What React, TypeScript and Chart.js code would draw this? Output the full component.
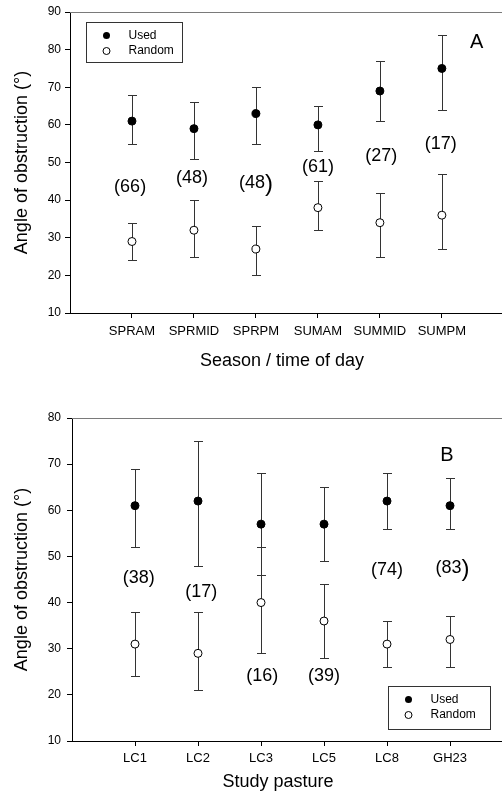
import React, { useEffect, useRef } from "react";
import { Chart, registerables } from "chart.js";

Chart.register(...registerables);
Chart.defaults.font.family = "'Liberation Sans', Arial, sans-serif";
Chart.defaults.color = "#000";

// ---------- Panel A: season / time of day ----------
const seasonCategories = ["SPRAM", "SPRMID", "SPRPM", "SUMAM", "SUMMID", "SUMPM"];
const seasonUsed = [61, 59, 63, 60, 69, 75];
const seasonUsedLow = [55, 51, 55, 53, 61, 64];
const seasonUsedHigh = [68, 66, 70, 65, 77, 84];
const seasonRandom = [29, 32, 27, 38, 34, 36];
const seasonRandomLow = [24, 25, 20, 32, 25, 27];
const seasonRandomHigh = [34, 40, 33, 45, 42, 47];
const seasonCounts = ["(66", "(48", "(48", "(61", "(27", "(17"];
const seasonCountY = [43.5, 45.8, 44.5, 48.8, 51.7, 54.9];
const seasonCountDX = [-0.03, -0.03, 0, 0, 0.02, -0.02];
const seasonBigParen = [false, false, true, false, false, false];

// ---------- Panel B: study pasture ----------
const pastureCategories = ["LC1", "LC2", "LC3", "LC5", "LC8", "GH23"];
const pastureUsed = [61, 62, 57, 57, 62, 61];
const pastureUsedLow = [52, 48, 46, 49, 56, 56];
const pastureUsedHigh = [69, 75, 68, 65, 68, 67];
const pastureRandom = [31, 29, 40, 36, 31, 32];
const pastureRandomLow = [24, 21, 29, 28, 26, 26];
const pastureRandomHigh = [38, 38, 52, 44, 36, 37];
const pastureCounts = ["(38", "(17", "(16", "(39", "(74", "(83"];
const pastureCountY = [45.3, 42.2, 24, 24, 47.1, 47.5];
const pastureCountDX = [0.06, 0.05, 0.02, 0, 0, 0.04];
const pastureBigParen = [false, false, false, false, false, true];

const yTitle = "Angle of obstruction (°)";
const legendLabels = ["Used", "Random"];

type PanelProps = {
  top: number;
  height: number;
  categories: string[];
  used: number[];
  usedLow: number[];
  usedHigh: number[];
  random: number[];
  randomLow: number[];
  randomHigh: number[];
  counts: string[];
  countY: number[];
  countDX: number[];
  bigParen: boolean[];
  yMin: number;
  yMax: number;
  xMax: number;
  xTitle: string;
  xTitleShift: number;
  xTitleY: number;
  letter: string;
  letterX: number;
  letterY: number;
  legendCorner: "topLeft" | "bottomRight";
  axisWidth: number;
  xAxisHeight: number;
  padTop: number;
  xTickPad: number;
  yTickPad: number;
};

const FONT = "'Liberation Sans', Arial, sans-serif";

function Panel(p: PanelProps) {
  const ref = useRef<HTMLCanvasElement>(null);

  useEffect(() => {
    const canvas = ref.current;
    if (!canvas) return;

    const errorBars = {
      id: "errorBars",
      beforeDatasetsDraw(chart: any) {
        const { ctx, scales } = chart;
        const xs = scales.x;
        const ys = scales.y;
        ctx.save();
        ctx.strokeStyle = "#333";
        ctx.lineWidth = 1;
        const sets = [
          [p.usedLow, p.usedHigh],
          [p.randomLow, p.randomHigh],
        ];
        sets.forEach(([lo, hi]) => {
          lo.forEach((l, i) => {
            const x = Math.round(xs.getPixelForValue(i + 1)) + 0.5;
            const y1 = Math.round(ys.getPixelForValue(l)) + 0.5;
            const y2 = Math.round(ys.getPixelForValue(hi[i])) + 0.5;
            ctx.beginPath();
            ctx.moveTo(x, y1);
            ctx.lineTo(x, y2);
            ctx.moveTo(x - 4.5, y1);
            ctx.lineTo(x + 4.5, y1);
            ctx.moveTo(x - 4.5, y2);
            ctx.lineTo(x + 4.5, y2);
            ctx.stroke();
          });
        });
        ctx.restore();
      },
    };

    const decorations = {
      id: "decorations",
      afterDatasetsDraw(chart: any) {
        const { ctx, scales, chartArea } = chart;
        const xs = scales.x;
        const ys = scales.y;
        ctx.save();
        // top frame line
        ctx.strokeStyle = "#7a7a7a";
        ctx.lineWidth = 1;
        ctx.beginPath();
        ctx.moveTo(chartArea.left, Math.round(chartArea.top) + 0.5);
        ctx.lineTo(chartArea.right, Math.round(chartArea.top) + 0.5);
        ctx.stroke();

        // x-axis title
        ctx.fillStyle = "#000";
        ctx.textBaseline = "middle";
        ctx.textAlign = "center";
        ctx.font = `18px ${FONT}`;
        ctx.fillText(p.xTitle, (chartArea.left + chartArea.right) / 2 + p.xTitleShift, chartArea.bottom + p.xTitleY);

        // sample-size labels
        ctx.textAlign = "left";
        p.counts.forEach((txt, i) => {
          const cx = xs.getPixelForValue(i + 1 + p.countDX[i]);
          const cy = ys.getPixelForValue(p.countY[i]);
          ctx.font = `18px ${FONT}`;
          const w1 = ctx.measureText(txt).width;
          const closeFont = p.bigParen[i] ? `24px ${FONT}` : `18px ${FONT}`;
          ctx.font = closeFont;
          const w2 = ctx.measureText(")").width;
          const start = cx - (w1 + w2) / 2;
          ctx.font = `18px ${FONT}`;
          ctx.fillText(txt, start, cy);
          ctx.font = closeFont;
          ctx.fillText(")", start + w1, cy + (p.bigParen[i] ? 1 : 0));
        });

        // panel letter
        ctx.font = `20px ${FONT}`;
        ctx.textAlign = "center";
        ctx.fillText(p.letter, xs.getPixelForValue(p.letterX), ys.getPixelForValue(p.letterY));

        // legend box
        let bx: number, by: number, bw: number, bh: number;
        if (p.legendCorner === "topLeft") {
          bw = 96;
          bh = 40;
          bx = chartArea.left + 16;
          by = chartArea.top + 10;
        } else {
          bw = 102;
          bh = 43;
          bx = chartArea.right - 12 - bw;
          by = chartArea.bottom - 12 - bh;
        }
        bx = Math.round(bx) + 0.5;
        by = Math.round(by) + 0.5;
        ctx.strokeStyle = "#333";
        ctx.lineWidth = 1;
        ctx.strokeRect(bx, by, bw, bh);
        const rows = [by + 13, by + 28.5];
        ctx.font = `12px ${FONT}`;
        ctx.textAlign = "left";
        rows.forEach((ry, k) => {
          ctx.beginPath();
          ctx.arc(bx + 20, ry, 3.5, 0, Math.PI * 2);
          if (k === 0) {
            ctx.fillStyle = "#000";
            ctx.fill();
          } else {
            ctx.fillStyle = "#fff";
            ctx.fill();
            ctx.strokeStyle = "#000";
            ctx.stroke();
          }
          ctx.fillStyle = "#000";
          ctx.fillText(legendLabels[k], bx + 42, ry);
        });
        ctx.restore();
      },
    };

    const chart = new Chart(canvas, {
      type: "scatter",
      data: {
        datasets: [
          {
            label: legendLabels[0],
            data: p.used.map((v, i) => ({ x: i + 1, y: v })),
            pointRadius: 4,
            pointBorderWidth: 1,
            pointBackgroundColor: "#000",
            pointBorderColor: "#000",
            showLine: false,
          },
          {
            label: legendLabels[1],
            data: p.random.map((v, i) => ({ x: i + 1, y: v })),
            pointRadius: 4,
            pointBorderWidth: 1,
            pointBackgroundColor: "#fff",
            pointBorderColor: "#000",
            showLine: false,
          },
        ],
      },
      options: {
        animation: false,
        responsive: true,
        maintainAspectRatio: false,
        layout: { autoPadding: false, padding: { top: p.padTop, left: 0, right: 0, bottom: 0 } },
        plugins: {
          legend: { display: false },
          tooltip: { enabled: false },
        },
        scales: {
          x: {
            type: "linear",
            min: 0,
            max: p.xMax,
            afterBuildTicks: (s: any) => {
              s.ticks = p.categories.map((_, i) => ({ value: i + 1 }));
            },
            afterFit: (s: any) => {
              s.height = p.xAxisHeight;
              s.paddingLeft = 0;
              s.paddingRight = 0;
            },
            ticks: {
              autoSkip: false,
              maxRotation: 0,
              font: { size: 13 },
              color: "#000",
              padding: p.xTickPad,
              callback: (v: any) => p.categories[Math.round(Number(v)) - 1] ?? "",
            },
            grid: { drawOnChartArea: false, drawTicks: true, tickLength: 5, color: "#000" },
            border: { display: true, color: "#000", width: 1 },
            title: { display: false },
          },
          y: {
            min: p.yMin,
            max: p.yMax,
            afterFit: (s: any) => {
              s.width = p.axisWidth;
              s.paddingTop = 0;
              s.paddingBottom = 0;
            },
            ticks: { stepSize: 10, font: { size: 12 }, color: "#000", padding: p.yTickPad },
            grid: { drawOnChartArea: false, drawTicks: true, tickLength: 5, color: "#000" },
            border: { display: true, color: "#000", width: 1 },
            title: {
              display: true,
              text: yTitle,
              font: { size: 18 },
              color: "#000",
              padding: { top: 11, bottom: 0 },
            },
          },
        },
      } as any,
      plugins: [errorBars, decorations],
    });
    return () => chart.destroy();
  }, []);

  return (
    <div style={{ position: "absolute", left: 0, top: p.top, width: 502, height: p.height, overflow: "hidden" }}>
      <canvas ref={ref} style={{ display: "block" }} />
    </div>
  );
}

export default function App() {
  return (
    <div style={{ position: "absolute", left: 0, top: 0, width: 502, height: 796, background: "#fff", overflow: "hidden" }}>
      <Panel
        top={0}
        height={380}
        categories={seasonCategories}
        used={seasonUsed}
        usedLow={seasonUsedLow}
        usedHigh={seasonUsedHigh}
        random={seasonRandom}
        randomLow={seasonRandomLow}
        randomHigh={seasonRandomHigh}
        counts={seasonCounts}
        countY={seasonCountY}
        countDX={seasonCountDX}
        bigParen={seasonBigParen}
        yMin={10}
        yMax={90}
        xMax={6.97}
        xTitle="Season / time of day"
        xTitleShift={-4}
        xTitleY={48.5}
        letter="A"
        letterX={6.56}
        letterY={81.9}
        legendCorner="topLeft"
        axisWidth={70}
        xAxisHeight={67}
        padTop={12}
        xTickPad={6}
        yTickPad={4}
      />
      <Panel
        top={400}
        height={396}
        categories={pastureCategories}
        used={pastureUsed}
        usedLow={pastureUsedLow}
        usedHigh={pastureUsedHigh}
        random={pastureRandom}
        randomLow={pastureRandomLow}
        randomHigh={pastureRandomHigh}
        counts={pastureCounts}
        countY={pastureCountY}
        countDX={pastureCountDX}
        bigParen={pastureBigParen}
        yMin={10}
        yMax={80}
        xMax={6.825}
        xTitle="Study pasture"
        xTitleShift={-9}
        xTitleY={41.5}
        letter="B"
        letterX={5.95}
        letterY={71.8}
        legendCorner="bottomRight"
        axisWidth={72}
        xAxisHeight={55}
        padTop={18}
        xTickPad={5}
        yTickPad={6}
      />
    </div>
  );
}
